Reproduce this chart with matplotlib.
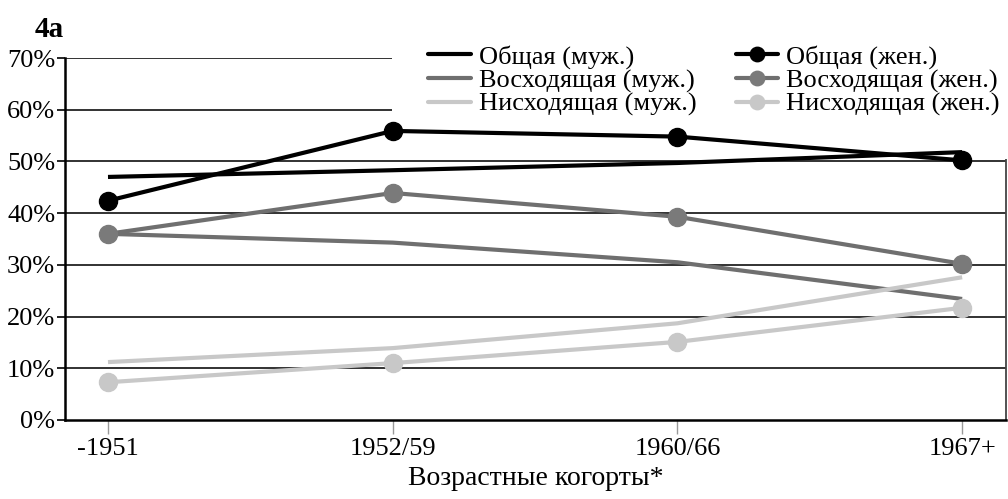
import matplotlib
matplotlib.use('Agg')
import matplotlib.pyplot as plt
from matplotlib.patches import Rectangle

plt.rcParams['font.family'] = ['Liberation Serif', 'DejaVu Serif']

# данные
cohorts = ['-1951', '1952/59', '1960/66', '1967+']
obsh_m = [47.0, 48.3, 49.7, 51.8]
obsh_f = [42.4, 55.9, 54.8, 50.2]
voskh_m = [36.0, 34.3, 30.5, 23.4]
voskh_f = [36.0, 43.9, 39.3, 30.2]
niskh_m = [11.2, 13.9, 18.7, 27.6]
niskh_f = [7.3, 11.0, 15.1, 21.7]
yticks = [0, 10, 20, 30, 40, 50, 60, 70]

black = '#000000'
dark = '#6f6f6f'
light = '#c8c8c8'

fig = plt.figure(figsize=(10.08, 4.99), dpi=100)
ax = fig.add_axes([65 / 1008, 79 / 499, 941 / 1008, 362 / 499])

x = range(len(cohorts))
lw = 3.0
ms = 13

h1, = ax.plot(x, obsh_m, color=black, lw=lw, solid_capstyle='butt', zorder=3)
h2, = ax.plot(x, voskh_m, color=dark, lw=lw, solid_capstyle='butt', zorder=3)
h3, = ax.plot(x, niskh_m, color=light, lw=lw, solid_capstyle='butt', zorder=3)
h4, = ax.plot(x, obsh_f, color=black, lw=lw, marker='o', ms=ms, zorder=4)
h5, = ax.plot(x, voskh_f, color=dark, lw=lw, marker='o', ms=ms, markerfacecolor='#7a7a7a',
              markeredgecolor='#7a7a7a', zorder=4)
h6, = ax.plot(x, niskh_f, color=light, lw=lw, marker='o', ms=ms, zorder=4)

ax.set_xlim(-0.151, 3.154)
ax.set_ylim(0, 70)
ax.set_yticks(yticks)
ax.set_yticklabels([str(v) + '%' for v in yticks])
ax.set_xticks(list(x))
ax.set_xticklabels(cohorts)

for v in yticks[1:]:
    ax.axhline(v, color='#222222', lw=1.3, zorder=1)

for s in ['left', 'bottom']:
    ax.spines[s].set_color('black')
    ax.spines[s].set_linewidth(1.8)
ax.spines['right'].set_color('#444444')
ax.spines['right'].set_linewidth(1.3)
ax.spines['top'].set_visible(False)

ax.tick_params(axis='x', length=10, width=1, color='#999999', labelsize=19, pad=3)
ax.tick_params(axis='y', length=6, width=1.2, color='black', labelsize=19, pad=1)

ax.set_xlabel('Возрастные когорты*', fontsize=20, labelpad=4)

# белая подложка легенды (закрывает сетку и правую рамку)
ax.add_patch(Rectangle((0.3475, 50.5 / 70), 0.7, 0.3, transform=ax.transAxes,
                       facecolor='white', edgecolor='none', zorder=2.7, clip_on=False))

leg = ax.legend([h1, h2, h3, h4, h5, h6],
                ['Общая (муж.)', 'Восходящая (муж.)', 'Нисходящая (муж.)',
                 'Общая (жен.)', 'Восходящая (жен.)', 'Нисходящая (жен.)'],
                ncol=2, loc='upper right', bbox_to_anchor=(1.0, 1.055),
                fontsize=19, frameon=False, borderpad=0.25,
                labelspacing=0.0, handlelength=1.6, handletextpad=0.3,
                columnspacing=1.5, borderaxespad=0, markerscale=0.8)
leg.set_zorder(10)
for ln in leg.get_lines():
    ln.set_solid_capstyle('round')

fig.text(35 / 1008, 1 - 37 / 499, '4a', fontsize=21, fontweight='bold')

fig.savefig('out.png', dpi=100)
